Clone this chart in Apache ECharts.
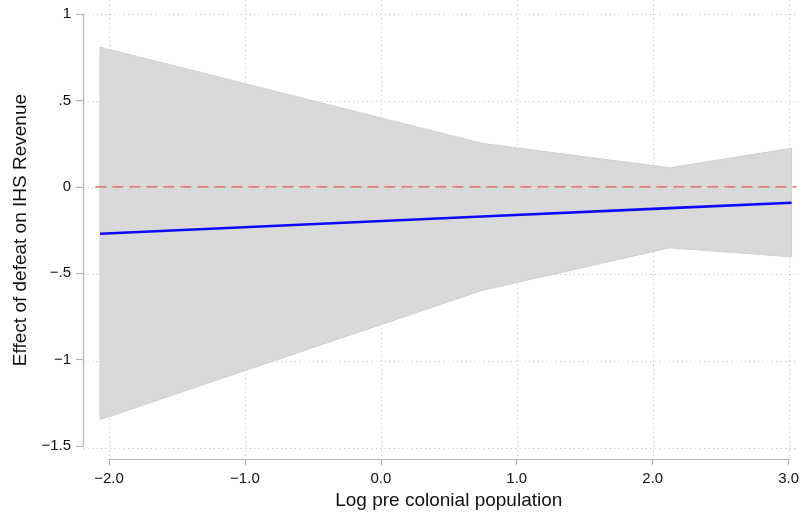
<!DOCTYPE html>
<html>
<head>
<meta charset="utf-8">
<script src="https://cdn.jsdelivr.net/npm/echarts@6/dist/echarts.min.js"></script>
<style>
html,body{margin:0;padding:0;background:#fff;}
#chart{width:802px;height:515px;}
</style>
</head>
<body>
<div id="chart"></div>
<script>
// Data
const xPoints = [-2.066, 0.743, 2.125, 3.022];
const upperCI = [0.808, 0.252, 0.110, 0.223];
const lowerCI = [-1.347, -0.600, -0.353, -0.405];
const effect  = [-0.271, -0.172, -0.123, -0.092];
const zeroLineX = [-2.10, 3.06];
const zeroLineY = [0, 0];
const xTickValues = [-2, -1, 0, 1, 2, 3];
const xTickLabels = ['−2.0', '−1.0', '0.0', '1.0', '2.0', '3.0'];
const yTickValues = [-1.5, -1, -0.5, 0, 0.5, 1];
const yTickLabels = ['−1.5', '−1', '−.5', '0', '.5', '1'];
const xTitle = 'Log pre colonial population';
const yTitle = 'Effect of defeat on IHS Revenue';

const font = 'Liberation Sans, Arial, Helvetica, sans-serif';
const labelFor = (vals, labs) => v => {
  for (let i = 0; i < vals.length; i++) if (Math.abs(vals[i] - v) < 1e-9) return labs[i];
  return '';
};

const bandData = xPoints.map((x, i) => [x, lowerCI[i], upperCI[i]]);
const effectData = xPoints.map((x, i) => [x, effect[i]]);
const zeroData = zeroLineX.map((x, i) => [x, zeroLineY[i]]);

const gridLineStyle = {color: '#cfcfcf', width: 1, type: [1.5, 3]};

function renderBand(params, api) {
  if (params.dataIndex !== 0) return null;
  const upper = bandData.map(d => api.coord([d[0], d[2]]));
  const lower = bandData.map(d => api.coord([d[0], d[1]])).reverse();
  return {
    type: 'polygon',
    shape: {points: upper.concat(lower)},
    style: {fill: '#d9d9d9', stroke: '#d0d0d0', lineWidth: 1}
  };
}
function polylineRenderer(arr, style) {
  return function (params, api) {
    if (params.dataIndex !== 0) return null;
    return {
      type: 'polyline',
      shape: {points: arr.map(d => api.coord([d[0], d[1]]))},
      style: Object.assign({fill: null}, style)
    };
  };
}

const chart = echarts.init(document.getElementById('chart'), null, {renderer: 'canvas'});
chart.setOption({
  animation: false,
  backgroundColor: '#fff',
  grid: [
    {left: 109, right: 13, top: 14, bottom: 67},   // main
    {left: 109, right: 13, top: 0, bottom: 54},    // vertical grid lines
    {left: 83, right: 5, top: 14, bottom: 67}      // horizontal grid lines
  ],
  xAxis: [
    {
      gridIndex: 0, type: 'value', min: -2, max: 3, interval: 1, offset: 13,
      axisLine: {show: true, onZero: false, lineStyle: {color: '#b4b4b4', width: 1.2}},
      axisTick: {show: true, length: 6, lineStyle: {color: '#b4b4b4', width: 1.2}},
      axisLabel: {margin: 12, color: '#111', fontFamily: font, fontSize: 15,
        formatter: labelFor(xTickValues, xTickLabels)},
      splitLine: {show: false},
      name: xTitle, nameLocation: 'middle', nameGap: 26,
      nameTextStyle: {color: '#111', fontFamily: font, fontSize: 19}
    },
    {
      gridIndex: 1, type: 'value', min: -2, max: 3, interval: 1,
      axisLine: {show: false, onZero: false}, axisTick: {show: false}, axisLabel: {show: false},
      splitLine: {show: true, lineStyle: gridLineStyle}
    },
    {
      gridIndex: 2, type: 'value', min: 0, max: 1,
      axisLine: {show: false, onZero: false}, axisTick: {show: false}, axisLabel: {show: false},
      splitLine: {show: false}
    }
  ],
  yAxis: [
    {
      gridIndex: 0, type: 'value', min: -1.5, max: 1, interval: 0.5, offset: 26,
      axisLine: {show: true, onZero: false, lineStyle: {color: '#b4b4b4', width: 1.2}},
      axisTick: {show: true, length: 7, lineStyle: {color: '#b4b4b4', width: 1.2}},
      axisLabel: {margin: 12, color: '#111', fontFamily: font, fontSize: 15,
        formatter: labelFor(yTickValues, yTickLabels)},
      splitLine: {show: false},
      name: yTitle, nameLocation: 'middle', nameGap: 53, nameRotate: 90,
      nameTextStyle: {color: '#111', fontFamily: font, fontSize: 19}
    },
    {
      gridIndex: 1, type: 'value', min: 0, max: 1,
      axisLine: {show: false, onZero: false}, axisTick: {show: false}, axisLabel: {show: false},
      splitLine: {show: false}
    },
    {
      gridIndex: 2, type: 'value', min: -1.5, max: 1, interval: 0.5,
      axisLine: {show: false, onZero: false}, axisTick: {show: false}, axisLabel: {show: false},
      splitLine: {show: true, lineStyle: gridLineStyle}
    }
  ],
  series: [
    {
      type: 'custom', xAxisIndex: 0, yAxisIndex: 0, data: bandData,
      encode: {x: 0, y: [1, 2]}, renderItem: renderBand, clip: false, z: 2,
      silent: true
    },
    {
      type: 'custom', xAxisIndex: 0, yAxisIndex: 0, data: zeroData,
      encode: {x: 0, y: 1}, clip: false, z: 3, silent: true,
      renderItem: polylineRenderer(zeroData,
        {stroke: '#e65a5a', lineWidth: 1.4, lineDash: [11, 6]})
    },
    {
      type: 'custom', xAxisIndex: 0, yAxisIndex: 0, data: effectData,
      encode: {x: 0, y: 1}, clip: false, z: 4, silent: true,
      renderItem: polylineRenderer(effectData,
        {stroke: '#0a0aff', lineWidth: 2.6})
    }
  ]
});
</script>
</body>
</html>
